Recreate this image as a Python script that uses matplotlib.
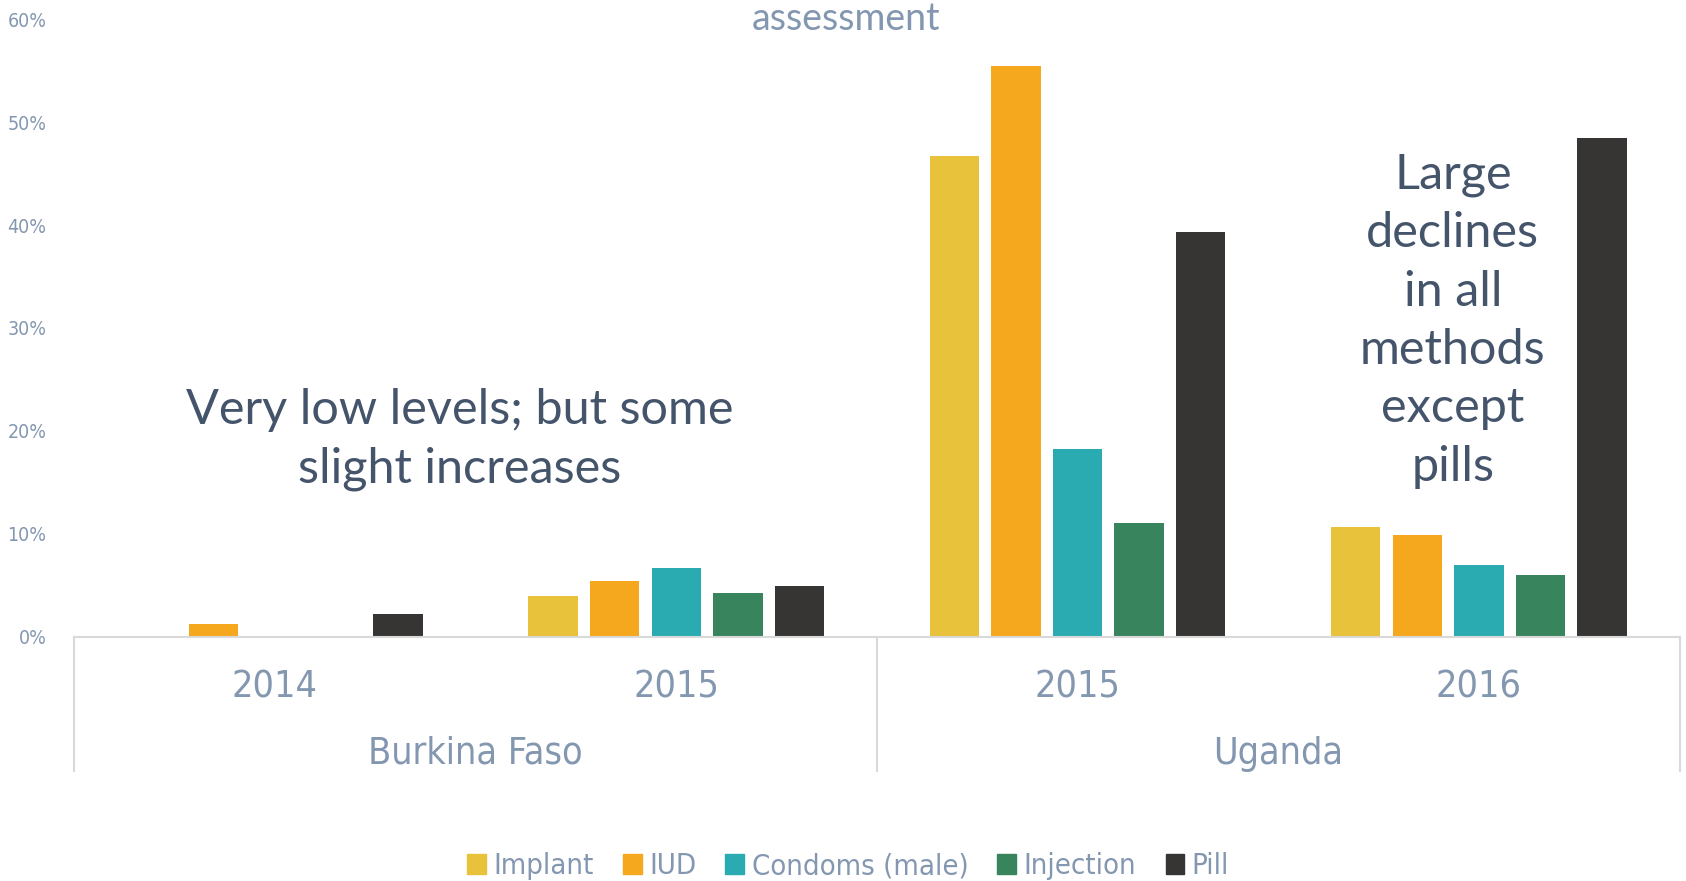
import numpy as np
import matplotlib
matplotlib.use("Agg")
import matplotlib.pyplot as plt
from matplotlib.patches import Patch
from matplotlib import font_manager as fm

# Data (share of facilities, fraction)
countries = ["Burkina Faso", "Uganda"]
years = ["2014", "2015", "2015", "2016"]
methods = ["Implant", "IUD", "Condoms (male)", "Injection", "Pill"]
implant = [0.0, 0.039, 0.467, 0.107]
iud = [0.0125, 0.054, 0.555, 0.099]
condoms = [0.0, 0.067, 0.182, 0.070]
injection = [0.0, 0.042, 0.110, 0.060]
pill = [0.022, 0.049, 0.393, 0.485]
colors = ["#E8C23A", "#F5A71D", "#2AABB2", "#38845D", "#363533"]

axis_col = "#8497B0"
note_col = "#44546A"

# condensed face for axis texts
cond = fm.FontProperties(family="DejaVu Sans", stretch="condensed")


def narrow(size):
    p = cond.copy()
    p.set_size(size)
    return p


series = [implant, iud, condoms, injection, pill]

fig = plt.figure(figsize=(16.86, 8.81), dpi=100)
ax = fig.add_axes([0.044, 0.2774, 0.9522, 0.7006])

x = np.arange(len(years))
step = 0.1535
width = 0.123
for i, vals in enumerate(series):
    ax.bar(x + (i - 2) * step, vals, width, color=colors[i], label=methods[i])

ax.set_xlim(-0.5, len(years) - 0.5)
ax.set_ylim(0, 0.6)
ax.set_yticks(np.arange(0, 0.61, 0.1))
ax.set_yticklabels([f"{int(round(v * 100))}%" for v in np.arange(0, 0.61, 0.1)],
                   color=axis_col, fontproperties=narrow(14))
ax.tick_params(axis="y", length=0, pad=20)

ax.set_xticks(x)
ax.set_xticklabels(years, color=axis_col, fontproperties=narrow(27))
ax.tick_params(axis="x", length=0, pad=24)

for s in ["top", "right", "left"]:
    ax.spines[s].set_visible(False)
ax.spines["bottom"].set_color("#D9D9D9")
ax.spines["bottom"].set_linewidth(1.5)

# multi-level category axis: separators and country labels
xt = ax.get_xaxis_transform()
for xs in [-0.5, 1.5, 3.5]:
    ax.plot([xs, xs], [0, -0.2184], color="#D9D9D9", lw=1.5,
            transform=xt, clip_on=False)
for j, c in enumerate(countries):
    ax.text(2 * j + 0.5, -0.19, c, transform=xt, ha="center", va="center",
            color=axis_col, fontproperties=narrow(27))

# partial title and annotations
fig.text(0.502, 0.978, "assessment", ha="center", va="center",
         color=axis_col, fontsize=27, family=["Lato", "DejaVu Sans"])
ax.text(0.46, 0.192, "Very low levels; but some\nslight increases", ha="center",
        va="center", color=note_col, fontsize=35, linespacing=1.4,
        family=["Lato", "DejaVu Sans"])
ax.text(2.935, 0.307, "Large\ndeclines\nin all\nmethods\nexcept\npills", ha="center",
        va="center", color=note_col, fontsize=35, linespacing=1.4,
        family=["Lato", "DejaVu Sans"])

handles = [Patch(color=c) for c in colors]
leg = fig.legend(handles, methods, loc="center", bbox_to_anchor=(0.503, 0.017),
                 ncol=5, frameon=False, handlelength=0.65, handleheight=0.65,
                 handletextpad=0.25, columnspacing=1.0, prop=narrow(21))
for t in leg.get_texts():
    t.set_color(axis_col)

fig.savefig("out.png", dpi=100)
